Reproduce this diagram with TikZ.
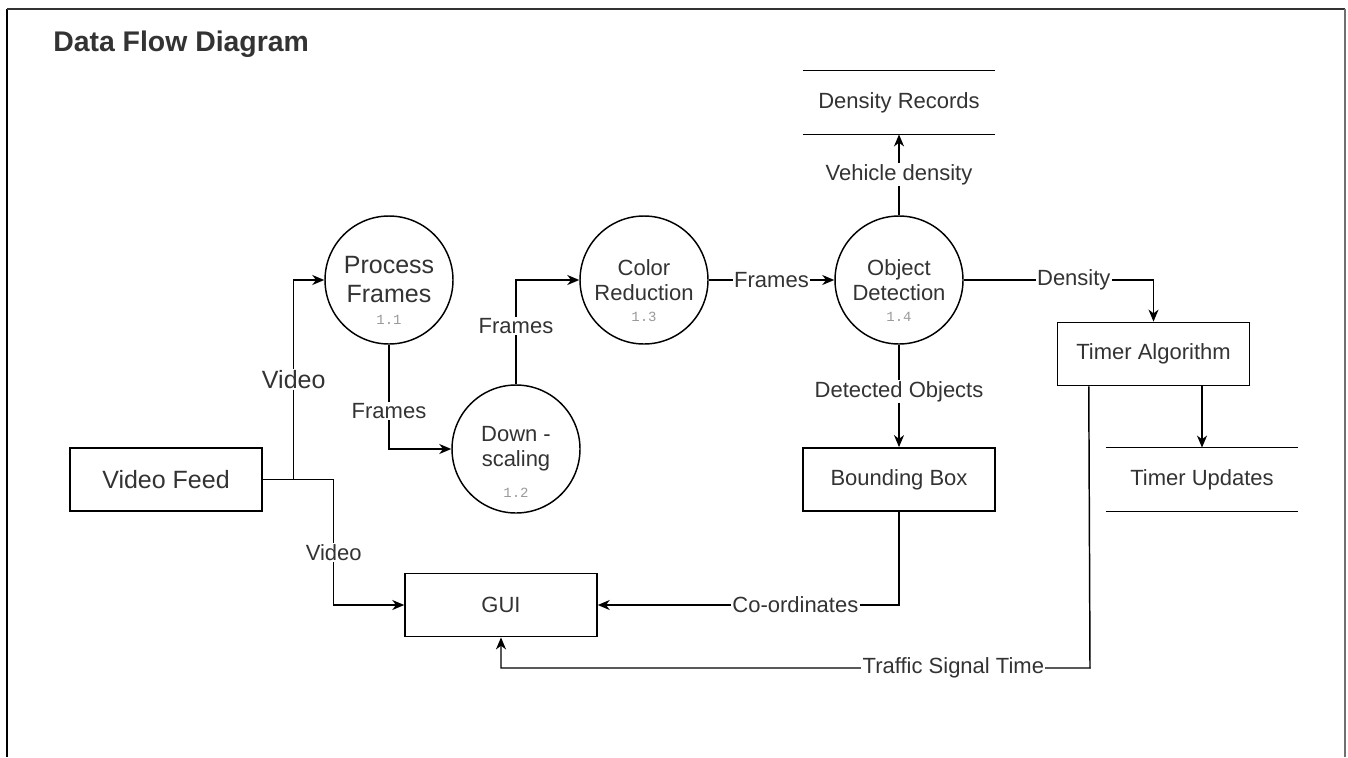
\documentclass[tikz,border=0pt]{standalone}
\usepackage{fontspec}
\setmainfont{Liberation Sans}
\setmonofont{Liberation Mono}
\usetikzlibrary{arrows.meta}

\definecolor{ink}{HTML}{333333}
\definecolor{numgray}{HTML}{9A9A9A}
\definecolor{edgegray}{HTML}{707070}

\newcommand{\bigtxt}{\fontsize{18.75}{21.75}\selectfont}
\newcommand{\midtxt}{\fontsize{16.5}{18.5}\selectfont}

\begin{document}
\begin{tikzpicture}[x=0.75pt,y=-0.75pt,
  link/.style={line width=1.1pt, draw=black},
  flow/.style={link, -{Stealth[length=9pt,width=7.5pt,inset=2.8pt]}},
  proc/.style={circle, draw, line width=1.1pt, minimum size=96pt, inner sep=0pt,
    align=center, text=ink, font=\midtxt},
  entity/.style={rectangle, draw, line width=1.1pt, minimum width=144pt,
    minimum height=47.5pt, inner sep=0pt, text=ink, font=\midtxt},
  store/.style={rectangle, minimum width=144pt, minimum height=47.5pt,
    inner sep=0pt, text=ink, font=\midtxt},
  tag/.style={fill=white, text=ink, inner sep=1pt, font=\midtxt},
  num/.style={text=numgray, inner sep=0pt, font=\ttfamily\fontsize{10.5}{12}\selectfont},
]
\useasboundingbox (0,0) rectangle (1348,757);
\fill[white] (0,0) rectangle (1348,757);

% window frame (open at the bottom)
\draw[line width=1.5pt, black] (7,757) -- (7,8.5);
\draw[line width=1.5pt, ink] (7,8.5) -- (1345,8.5);
\draw[line width=1.5pt, edgegray] (1345,8.5) -- (1345,757);

\node[anchor=west, inner sep=0pt, text=ink, font=\bfseries\fontsize{21.3}{25}\selectfont]
  (title) at (53,44) {Data Flow Diagram};

% external entities and process boxes
\node[entity, font=\bigtxt] (feed) at (166,479.5) {Video Feed};
\node[entity] (gui) at (501,605) {GUI};
\node[entity] (bbox) at (899,479.5) {Bounding Box};
\node[entity] (timer) at (1153.5,354) {Timer Algorithm};

% processes
\node[proc, font=\bigtxt] (pf) at (389,280) {Process\\Frames};
\node[num] (pfn) at ([yshift=-30pt]pf.center) {1.1};
\node[proc] (ds) at (516,449) {Down -\\scaling};
\node[num] (dsn) at ([yshift=-33pt]ds.center) {1.2};
\node[proc] (cr) at (644,280) {Color\\Reduction};
\node[num] (crn) at ([yshift=-28pt]cr.center) {1.3};
\node[proc] (od) at (899,280) {Object\\Detection};
\node[num] (odn) at ([yshift=-28pt]od.center) {1.4};

% data stores
\node[store] (dens) at (899,102.5) {Density Records};
\draw[link] (dens.north west) -- (dens.north east);
\draw[link] (dens.south west) -- (dens.south east);
\node[store] (upd) at (1202,479.5) {Timer Updates};
\draw[link] (upd.north west) -- (upd.north east);
\draw[link] (upd.south west) -- (upd.south east);

% data flows
\draw[flow] (feed.east) -- ++(31,0) |- node[tag, font=\bigtxt, pos=0.25] {Video} (pf.west);
\draw[flow] (feed.east) -- ++(71,0) |- node[tag, pos=0.29] {Video} (gui.west);
\draw[flow] (pf.south) |- node[tag, pos=0.32] {Frames} (ds.west);
\draw[flow] (ds.north) |- node[tag, pos=0.28] {Frames} (cr.west);
\draw[flow] (cr.east) -- node[tag] {Frames} (od.west);
\draw[flow] (od.north) -- node[tag, pos=0.5] {Vehicle density} (dens.south);
\draw[flow] (od.east) -| node[tag, pos=0.29] {Density} (timer.north);
\draw[flow] (od.south) -- node[tag, pos=0.46] {Detected Objects} (bbox.north);
\draw[flow] (timer.south -| upd.north) -- (upd.north);
\draw[flow] (bbox.south) |- node[tag, pos=0.672] {Co-ordinates} (gui.east);
\coordinate (sig) at (1090,668);
\draw[flow] ([xshift=24pt]timer.south west) -- (sig) -| node[tag, pos=0.116] {Traffic Signal Time} (gui.south);
\end{tikzpicture}
\end{document}
